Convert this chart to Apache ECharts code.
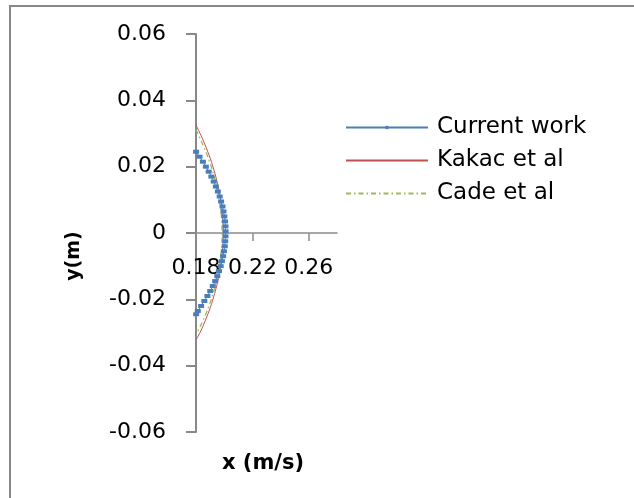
<!DOCTYPE html>
<html>
<head>
<meta charset="utf-8">
<script src="https://cdn.jsdelivr.net/npm/echarts@6/dist/echarts.min.js"></script>
<style>html,body{margin:0;padding:0;background:#fff}#c{width:634px;height:498px}</style>
</head>
<body>
<div id="c"></div>
<script>
// Series names
const seriesNames = ['Current work', 'Kakac et al', 'Cade et al'];
// Tick labels
const xTicks = [0.18, 0.22, 0.26];
const yTicks = [-0.06, -0.04, -0.02, 0, 0.02, 0.04, 0.06];

// Current work: velocity x (m/s) vs position y (m)
const currentY = [0.0245, 0.0230, 0.0215, 0.0200, 0.0185, 0.0170, 0.0155, 0.0140, 0.0125, 0.0110, 0.0095, 0.0080, 0.0065, 0.0050, 0.0035, 0.0020, 0.0005,
  -0.0010, -0.0025, -0.0040, -0.0055, -0.0070, -0.0085, -0.0100, -0.0115, -0.0130, -0.0145, -0.0160, -0.0175, -0.0190, -0.0205, -0.0220, -0.0235, -0.0245];
const currentX = [0.1801, 0.1825, 0.1849, 0.1870, 0.1890, 0.1909, 0.1926, 0.1941, 0.1955, 0.1968, 0.1978, 0.1988, 0.1995, 0.2001, 0.2006, 0.2009, 0.2010,
  0.2009, 0.2007, 0.2004, 0.1998, 0.1992, 0.1984, 0.1975, 0.1963, 0.1951, 0.1936, 0.1919, 0.1901, 0.1881, 0.1859, 0.1836, 0.1813, 0.1801];

// Kakac et al
const kakacY = [0.0325, 0.0300, 0.0275, 0.0250, 0.0225, 0.0200, 0.0175, 0.0150, 0.0125, 0.0100, 0.0075, 0.0050, 0.0025, 0,
  -0.0025, -0.0050, -0.0075, -0.0100, -0.0125, -0.0150, -0.0175, -0.0200, -0.0225, -0.0250, -0.0275, -0.0300, -0.0320];
const kakacX = [0.1800, 0.1829, 0.1855, 0.1879, 0.1901, 0.1920, 0.1937, 0.1952, 0.1964, 0.1975, 0.1983, 0.1988, 0.1992, 0.1993,
  0.1992, 0.1988, 0.1983, 0.1975, 0.1964, 0.1952, 0.1937, 0.1920, 0.1901, 0.1879, 0.1855, 0.1829, 0.1803];

// Cade et al
const cadeY = [0.0312, 0.0285, 0.0260, 0.0235, 0.0210, 0.0185, 0.0160, 0.0135, 0.0110, 0.0085, 0.0060, 0.0035, 0.0010,
  -0.0015, -0.0040, -0.0065, -0.0090, -0.0115, -0.0140, -0.0165, -0.0190, -0.0215, -0.0240, -0.0265, -0.0290, -0.0305];
const cadeX = [0.1800, 0.1829, 0.1855, 0.1879, 0.1900, 0.1919, 0.1936, 0.1950, 0.1962, 0.1971, 0.1978, 0.1983, 0.1985,
  0.1985, 0.1982, 0.1977, 0.1970, 0.1960, 0.1948, 0.1933, 0.1916, 0.1896, 0.1874, 0.1849, 0.1820, 0.1803];

const pairs = (xs, ys) => xs.map((x, i) => [x, ys[i]]);

const FONT = 'DejaVu Sans';
const GRID_TOP = 34, GRID_BOTTOM = 66, H = 498;
// x axis drawn through y = 0 (middle of the symmetric y range)
const zeroOffset = -((H - GRID_BOTTOM) - (GRID_TOP + (H - GRID_BOTTOM)) / 2);

const chart = echarts.init(document.getElementById('c'), null, { renderer: 'canvas' });
chart.setOption({
  backgroundColor: '#ffffff',
  animation: false,
  grid: { left: 196, right: 297, top: GRID_TOP, bottom: GRID_BOTTOM, containLabel: false },
  xAxis: {
    type: 'value',
    min: 0.18,
    max: 0.28,
    offset: zeroOffset,
    splitLine: { show: false },
    axisLine: { show: true, onZero: false, lineStyle: { color: '#8c8c8c', width: 1.5 } },
    axisTick: { show: true, length: 8, inside: false, customValues: xTicks, lineStyle: { color: '#8c8c8c', width: 1.5 } },
    axisLabel: {
      customValues: xTicks,
      margin: 24,
      fontFamily: FONT, fontSize: 22, color: '#000',
      formatter: v => Number(v).toFixed(2)
    }
  },
  yAxis: {
    type: 'value',
    min: yTicks[0],
    max: yTicks[yTicks.length - 1],
    interval: 0.02,
    splitLine: { show: false },
    axisLine: { show: true, onZero: false, lineStyle: { color: '#888888', width: 2 } },
    axisTick: { show: true, length: 10, lineStyle: { color: '#888888', width: 2 } },
    axisLabel: {
      margin: 30,
      fontFamily: FONT, fontSize: 22, color: '#000',
      formatter: v => (Math.abs(v) < 1e-9 ? '0' : Number(v).toFixed(2))
    }
  },
  legend: {
    orient: 'vertical',
    left: 345,
    top: 116,
    padding: 0,
    itemWidth: 82,
    itemHeight: 4,
    itemGap: 10,
    textStyle: { fontFamily: FONT, fontSize: 23, color: '#000', padding: [0, 0, 0, 4] },
    data: [
      { name: seriesNames[0] },
      { name: seriesNames[1], itemStyle: { opacity: 0 } },
      { name: seriesNames[2], itemStyle: { opacity: 0 } }
    ]
  },
  graphic: [
    { type: 'rect', shape: { x: 10, y: 6, width: 640, height: 520 }, style: { fill: 'none', stroke: '#888888', lineWidth: 2 }, silent: true },
    { type: 'text', x: 74, y: 256, rotation: Math.PI / 2,
      style: { text: 'y(m)', fontFamily: FONT, fontWeight: 'bold', fontSize: 19, fill: '#000', align: 'center', verticalAlign: 'middle' } },
    { type: 'text', x: 263, y: 464,
      style: { text: 'x (m/s)', fontFamily: FONT, fontWeight: 'bold', fontSize: 21, fill: '#000', align: 'center', verticalAlign: 'middle' } }
  ],
  series: [
    {
      name: seriesNames[0], type: 'line',
      data: pairs(currentX, currentY),
      symbol: 'rect', symbolSize: [6, 4], showSymbol: true,
      itemStyle: { color: '#4A7EBB' },
      lineStyle: { color: '#4A7EBB', width: 1 },
      z: 3
    },
    {
      name: seriesNames[1], type: 'line',
      data: pairs(kakacX, kakacY),
      symbol: 'none', smooth: true,
      itemStyle: { color: '#C0504D' },
      lineStyle: { color: '#C0504D', width: 1 },
      z: 2
    },
    {
      name: seriesNames[2], type: 'line',
      data: pairs(cadeX, cadeY),
      symbol: 'none', smooth: true,
      itemStyle: { color: '#9BBB59' },
      lineStyle: { color: '#9BBB59', width: 1.3, type: [5, 3, 1.5, 3] },
      z: 2
    }
  ]
});
</script>
</body>
</html>
